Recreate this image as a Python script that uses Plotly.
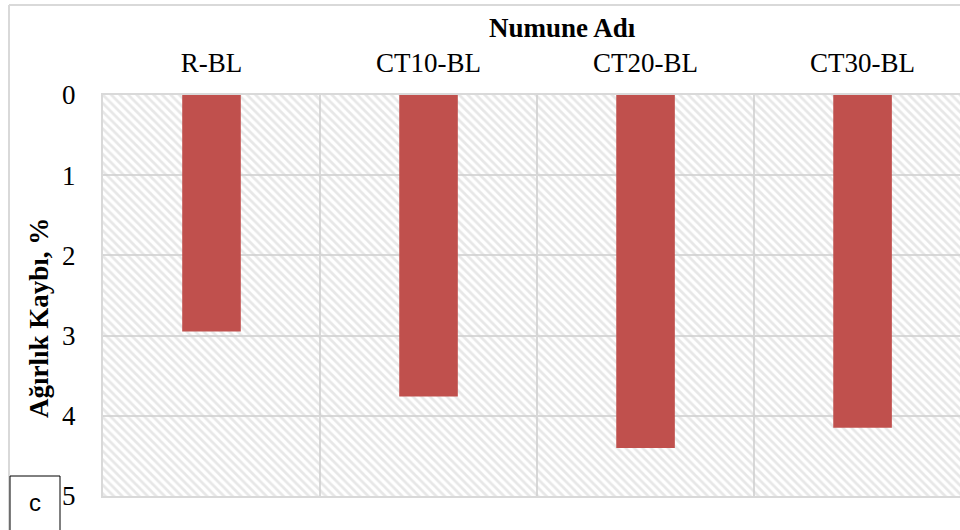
import plotly.graph_objects as go

categories = ["R-BL", "CT10-BL", "CT20-BL", "CT30-BL"]
weight_loss = [2.95, 3.76, 4.40, 4.15]
y_ticks = [0, 1, 2, 3, 4, 5]

SERIF = "Liberation Serif"
xpos = list(range(len(categories)))

fig = go.Figure()
# hatched plot background
fig.add_trace(go.Bar(
    x=xpos, y=[5] * len(categories), width=1,
    marker=dict(color="rgba(0,0,0,0)", line=dict(width=0),
                pattern=dict(shape="\\", fgcolor="#cfcfcf", bgcolor="rgba(0,0,0,0)",
                             size=6, solidity=0.45)),
    hoverinfo="skip", showlegend=False))
fig.add_trace(go.Bar(
    x=xpos, y=weight_loss, width=0.27,
    marker=dict(color="#C0504D", line=dict(width=0)),
    showlegend=False))

L, T, B = 103, 95, 34
W, H = 960, 530
pw = W - L
ph = H - T - B

def px(xp):
    return (xp - L) / pw

def py(yp):
    return (H - B - yp) / ph

fig.update_layout(
    width=W, height=H, barmode="overlay",
    margin=dict(l=L, r=0, t=T, b=B, autoexpand=False),
    paper_bgcolor="white", plot_bgcolor="white",
    font=dict(family=SERIF, color="black"),
    xaxis=dict(side="top", range=[-0.5, 3.449], tickvals=xpos, ticktext=categories,
               tickfont=dict(size=27, family=SERIF), ticks="", ticklabelstandoff=10,
               showgrid=False, zeroline=False,
               showline=True, linecolor="#d9d9d9", linewidth=2, mirror=True,
               minor=dict(tickvals=[0.5, 1.5, 2.5], showgrid=True,
                          gridcolor="#d9d9d9", gridwidth=2, ticks="")),
    yaxis=dict(range=[5, 0], tickvals=y_ticks, tickfont=dict(size=27, family=SERIF),
               ticks="", ticklabelstandoff=20, showgrid=True, gridcolor="#d9d9d9",
               gridwidth=2, zeroline=False,
               showline=True, linecolor="#d9d9d9", linewidth=2, mirror=True),
)

fig.add_annotation(text="<b>Numune Adı</b>", xref="paper", yref="paper",
                   x=px(562), y=py(28), showarrow=False,
                   font=dict(size=27, family=SERIF), xanchor="center", yanchor="middle")
fig.add_annotation(text="<b>Ağırlık Kaybı, %</b>", xref="paper", yref="paper",
                   x=px(39), y=py(318), showarrow=False, textangle=-90,
                   font=dict(size=27, family=SERIF), xanchor="center", yanchor="middle")

# outer chart frame
fig.add_shape(type="line", xref="paper", yref="paper", x0=px(9), x1=px(9),
              y0=py(5), y1=py(530), line=dict(color="#d9d9d9", width=2))
fig.add_shape(type="line", xref="paper", yref="paper", x0=px(9), x1=px(960),
              y0=py(5), y1=py(5), line=dict(color="#d9d9d9", width=2))

# panel label box
fig.add_shape(type="rect", xref="paper", yref="paper", x0=px(10), x1=px(60),
              y0=py(476), y1=py(532), line=dict(color="black", width=1),
              fillcolor="white")
fig.add_annotation(text="c", xref="paper", yref="paper", x=px(35), y=py(503),
                   showarrow=False, font=dict(size=24, family="Liberation Sans"),
                   xanchor="center", yanchor="middle")

fig.write_html("out.html", config={"displayModeBar": False},
               post_script="document.body.style.margin='0px';document.body.style.overflow='hidden';")
